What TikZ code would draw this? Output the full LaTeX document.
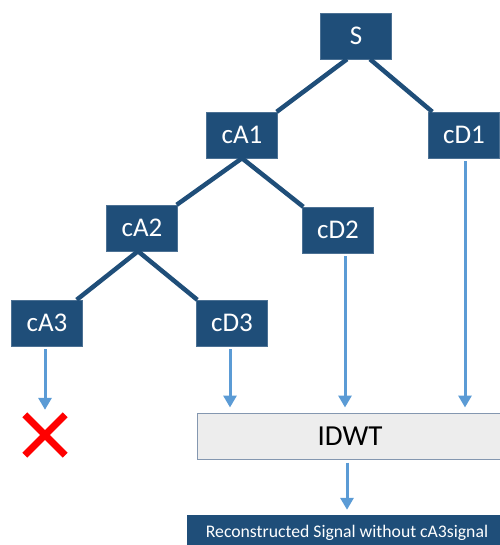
\documentclass[tikz,border=0pt]{standalone}
\usepackage{fontspec}
\setmainfont{Carlito}
\usepackage{tikz}
\usetikzlibrary{arrows.meta}

\definecolor{boxblue}{HTML}{1F4E79}
\definecolor{flowblue}{HTML}{5B9BD5}
\definecolor{idwtgray}{HTML}{EDEDED}
\definecolor{idwtline}{HTML}{8497B0}

\begin{document}
\begin{tikzpicture}[x=1pt,y=-1pt,
  coef/.style={fill=boxblue, draw=boxblue!80!white, text=white, minimum width=71pt, minimum height=46pt, inner sep=0pt, font=\fontsize{27}{27}\selectfont},
  branch/.style={draw=boxblue, line width=4.5pt},
  flow/.style={draw=flowblue, line width=3pt, -{Triangle[width=13pt,length=12pt]}, shorten <=3pt, shorten >=5pt}]
\useasboundingbox (0,0) rectangle (499,545);

\node[coef] (S) at (356,36) {S};
\node[coef] (cA1) at (242,135) {cA1};
\node[coef] (cD1) at (464,135) {cD1};
\node[coef] (cA2) at (142,228) {cA2};
\node[coef] (cD2) at (338,230) {cD2};
\node[coef] (cA3) at (47,323) {cA3};
\node[coef] (cD3) at (232,323) {cD3};

\node[fill=idwtgray, draw=idwtline, line width=1pt, minimum width=306pt, minimum height=46pt, inner sep=0pt, font=\fontsize{29}{29}\selectfont] (IDWT) at (350,436) {IDWT};
\node[fill=boxblue, text=white, minimum width=320pt, minimum height=36pt, inner sep=0pt, font=\fontsize{17.7}{17.7}\selectfont] (result) at (347,533) {Reconstructed Signal without cA3signal};
\node[minimum width=40pt, minimum height=40pt, inner sep=0pt] (xmark) at (45,435) {};
\draw[red, line width=7pt] (xmark.north west) -- (xmark.south east) (xmark.north east) -- (xmark.south west);

\draw[branch] ([xshift=-9pt]S.south) -- ([xshift=-1pt]cA1.north east);
\draw[branch] ([xshift=14pt]S.south) -- ([xshift=4pt]cD1.north west);
\draw[branch] (cA1.south) -- ([xshift=-1pt]cA2.north east);
\draw[branch] (cA1.south) -- ([xshift=1pt]cD2.north west);
\draw[branch] ([xshift=-4pt]cA2.south) -- ([xshift=-6pt]cA3.north east);
\draw[branch] ([xshift=-4pt]cA2.south) -- ([xshift=1pt]cD3.north west);

\draw[flow] ([xshift=-2pt]cA3.south) -- ([xshift=-2pt]cA3.south |- xmark.north);
\draw[flow] ([xshift=-2pt]cD3.south) -- ([xshift=-2pt]cD3.south |- IDWT.north);
\draw[flow] ([xshift=7pt]cD2.south) -- ([xshift=7pt]cD2.south |- IDWT.north);
\draw[flow] ([xshift=1pt]cD1.south) -- ([xshift=1pt]cD1.south |- IDWT.north);
\draw[flow] ([xshift=-3pt]IDWT.south) -- ([xshift=-3pt]IDWT.south |- result.north);
\end{tikzpicture}
\end{document}
